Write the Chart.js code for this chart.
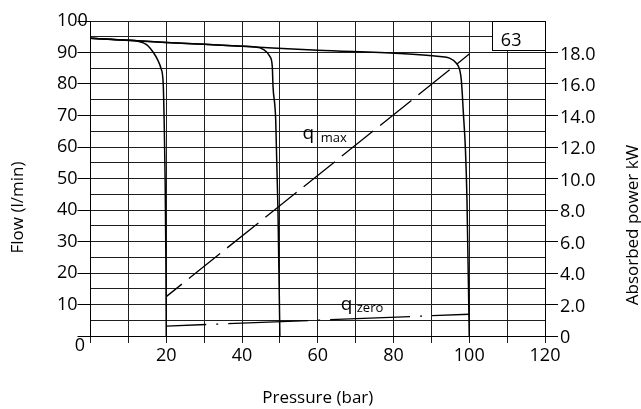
<!DOCTYPE html>
<html>
<head>
<meta charset="utf-8">
<script src="https://cdn.jsdelivr.net/npm/chart.js@4/dist/chart.umd.min.js"></script>
<style>
  html, body { margin: 0; padding: 0; background: #fff; }
  canvas { display: block; }
</style>
</head>
<body>
<canvas id="chart" width="641" height="409"></canvas>
<script>
// Pressure / flow characteristics for three relief settings (bar, l/min)
const pressure20  = [0, 10, 12.5, 14.8, 16.6, 17.8, 18.6, 19.2, 19.5, 19.7, 19.9, 20];
const flow20      = [94.5, 93.9, 93.6, 92.5, 90.0, 87.5, 85.0, 80.0, 65.0, 50.0, 25.0, 0];

const pressure50  = [0, 10, 20, 30, 40, 43, 45.6, 47.4, 48.0, 48.2, 48.7, 48.9, 49.5, 50];
const flow50      = [94.5, 93.9, 93.2, 92.6, 92.0, 91.8, 91.0, 88.7, 85.5, 79.0, 72.8, 68.6, 40.0, 0];

const pressure100 = [0, 20, 40, 60, 81.6, 92.2, 94.8, 96.6, 97.5, 97.9, 98.2, 98.4, 99.0, 99.4, 100];
const flow100     = [94.5, 93.2, 92.0, 90.7, 89.7, 88.7, 88.2, 86.6, 84.4, 81.3, 76.0, 71.7, 59.0, 43.2, 0];

// Absorbed power (kW) at maximum and at zero displacement
const powerPressure = [20, 100];
const powerQmax     = [2.5, 17.9];
const powerQzero    = [0.63, 1.38];

// Axis tick labels
const pressureLabels = ['20', '40', '60', '80', '100', '120'];
const flowLabels     = ['10', '20', '30', '40', '50', '60', '70', '80', '90', '100'];
const powerLabels    = ['0', '2.0', '4.0', '6.0', '8.0', '10.0', '12.0', '14.0', '16.0', '18.0'];

const pumpSize = '63';

const FONT = "'Open Sans', sans-serif";
const INK = '#000';
const GRID = '#1e1e1e';

const toPoints = (xs, ys) => xs.map((x, i) => ({ x, y: ys[i] }));

const curveStyle = {
  borderColor: INK,
  borderWidth: 1.5,
  pointRadius: 0,
  fill: false,
  cubicInterpolationMode: 'monotone',
  yAxisID: 'flow'
};

// Extra drawing: size box, curve labels, vertical axis titles, origin label
const decorations = {
  id: 'decorations',
  beforeDatasetsDraw(chart) {
    const { ctx, scales: { x, flow } } = chart;
    const l = x.getPixelForValue(106.1), r = x.getPixelForValue(120);
    const t = flow.getPixelForValue(100), b = flow.getPixelForValue(90.8);
    ctx.save();
    ctx.fillStyle = '#fff';
    ctx.fillRect(l, t, r - l, b - t);
    ctx.strokeStyle = INK;
    ctx.lineWidth = 1;
    ctx.strokeRect(Math.round(l) + 0.5, Math.round(t) + 0.5, Math.round(r - l), Math.round(b - t));
    ctx.fillStyle = INK;
    ctx.font = '18px ' + FONT;
    ctx.textAlign = 'left';
    ctx.textBaseline = 'alphabetic';
    ctx.fillText(pumpSize, l + 8.5, b - 3.5);
    ctx.restore();
  },
  afterDraw(chart) {
    const { ctx, scales: { x, flow } } = chart;
    ctx.save();
    ctx.fillStyle = INK;
    ctx.textAlign = 'left';
    ctx.textBaseline = 'alphabetic';

    const label = (main, sub, px, py, sx, sy) => {
      ctx.font = '19px ' + FONT;
      ctx.fillText(main, x.getPixelForValue(px), flow.getPixelForValue(py));
      ctx.font = '13px ' + FONT;
      ctx.fillText(sub, x.getPixelForValue(sx), flow.getPixelForValue(sy));
    };
    label('q', 'max', 56.0, 62.5, 60.8, 61.7);
    label('q', 'zero', 66.1, 8.1, 70.3, 7.7);

    // origin
    ctx.font = '18px ' + FONT;
    ctx.textAlign = 'center';
    ctx.textBaseline = 'middle';
    ctx.fillText('0', x.left - 10.5, flow.bottom + 10);

    // vertical axis titles
    ctx.font = '17px ' + FONT;
    ctx.textBaseline = 'alphabetic';
    ctx.save();
    ctx.translate(22.5, 207.5);
    ctx.rotate(-Math.PI / 2);
    ctx.fillText('Flow (l/min)', 0, 0);
    ctx.restore();
    ctx.save();
    ctx.translate(637.5, 225);
    ctx.rotate(-Math.PI / 2);
    ctx.fillText('Absorbed power kW', 0, 0);
    ctx.restore();
    ctx.restore();
  }
};

new Chart(document.getElementById('chart'), {
  type: 'line',
  data: {
    datasets: [
      { ...curveStyle, label: '20 bar', data: toPoints(pressure20, flow20) },
      { ...curveStyle, label: '50 bar', data: toPoints(pressure50, flow50) },
      { ...curveStyle, label: '100 bar', data: toPoints(pressure100, flow100) },
      {
        label: 'q max', data: toPoints(powerPressure, powerQmax), yAxisID: 'power',
        borderColor: INK, borderWidth: 1.3, pointRadius: 0, tension: 0,
        borderDash: [40, 9], borderDashOffset: 20
      },
      {
        label: 'q zero', data: toPoints(powerPressure, powerQzero), yAxisID: 'power',
        borderColor: INK, borderWidth: 1.3, pointRadius: 0, tension: 0,
        borderDash: [80, 10, 2, 10], borderDashOffset: 40
      }
    ]
  },
  options: {
    responsive: false,
    animation: false,
    devicePixelRatio: 1,
    layout: { padding: { left: 57, top: 21, right: 0, bottom: 0 } },
    plugins: { legend: { display: false }, tooltip: { enabled: false } },
    scales: {
      x: {
        type: 'linear',
        min: 0, max: 120,
        afterFit: s => { s.height = 73; },
        ticks: {
          stepSize: 10, autoSkip: false, maxRotation: 0, padding: 2,
          color: INK, font: { family: FONT, size: 18 },
          callback: v => pressureLabels.includes(String(v)) ? String(v) : ''
        },
        grid: { color: GRID, lineWidth: 1, tickLength: 7, tickColor: GRID },
        border: { color: INK },
        title: {
          display: true, text: 'Pressure (bar)', color: INK,
          font: { family: FONT, size: 17 }, padding: { top: 0, bottom: 1 }
        }
      },
      flow: {
        type: 'linear', position: 'left',
        min: 0, max: 100,
        afterFit: s => { s.width = 33.5; },
        ticks: {
          stepSize: 5, autoSkip: false, crossAlign: 'far', padding: 0,
          color: INK, font: { family: FONT, size: 18 },
          callback: v => flowLabels.includes(String(v)) ? String(v) : ''
        },
        grid: {
          color: GRID, lineWidth: 1, tickLength: 13,
          tickColor: c => (c.tick && c.tick.value % 10 === 0) ? INK : 'rgba(0,0,0,0)'
        },
        border: { color: INK }
      },
      power: {
        type: 'linear', position: 'right',
        min: 0, max: 20,
        afterFit: s => { s.width = 96; },
        ticks: {
          stepSize: 2, autoSkip: false, padding: 2, labelOffset: 2,
          color: INK, font: { family: FONT, size: 18 },
          callback: (v, i) => powerLabels[i] !== undefined ? powerLabels[i] : ''
        },
        grid: {
          drawOnChartArea: false, lineWidth: 1, tickLength: 13,
          tickColor: c => (c.tick && c.tick.value < 20) ? INK : 'rgba(0,0,0,0)'
        },
        border: { color: INK }
      }
    }
  },
  plugins: [decorations]
});
</script>
</body>
</html>
